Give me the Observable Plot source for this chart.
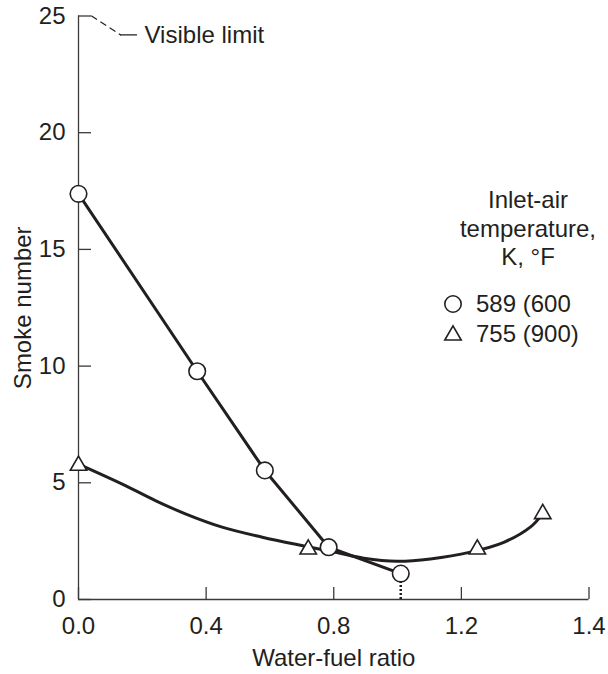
<!DOCTYPE html>
<html>
<head>
<meta charset="utf-8">
<script src="https://cdn.jsdelivr.net/npm/d3@7"></script>
<script src="https://cdn.jsdelivr.net/npm/@observablehq/plot@0.6"></script>
<style>
  html, body { margin: 0; padding: 0; background: #fff; }
  #wrap { position: relative; width: 608px; height: 674px; font-family: "Liberation Sans", Arial, sans-serif; color: #231f20; }
  #legend-title { position: absolute; left: 448px; top: 186px; width: 160px; text-align: center; font-size: 24px; line-height: 28.5px; }
  .row { position: absolute; left: 443px; height: 28px; display: flex; align-items: center; font-size: 24px; }
  .row svg { width: 20px; height: 20px; margin-right: 13px; }
</style>
</head>
<body>
<div id="wrap"></div>
<script>
// ---- data ----
const xTicks = [0, 0.4, 0.8, 1.2, 1.6];
const xTickLabels = ["0.0", "0.4", "0.8", "1.2", "1.4"];
const yTicks = [0, 5, 10, 15, 20, 25];

// Inlet-air temperature 589 K (600 °F): circles
const circleX = [0, 0.372, 0.584, 0.784, 1.01];
const circleY = [17.38, 9.78, 5.53, 2.24, 1.11];

// Inlet-air temperature 755 K (900 °F): triangles
const triX = [0, 0.72, 1.25, 1.455];
const triY = [5.74, 2.15, 2.15, 3.67];

// faired curve through the triangle data
const triCurveX = [0, 0.147, 0.241, 0.335, 0.45, 0.576, 0.70, 0.81, 0.894, 0.999, 1.103, 1.228, 1.333, 1.416, 1.455];
const triCurveY = [5.8, 4.88, 4.24, 3.67, 3.10, 2.67, 2.31, 2.01, 1.77, 1.64, 1.74, 2.03, 2.45, 3.10, 3.67];

// "Visible limit" annotation
const visibleLimit = 25;
const leaderX = [0.041, 0.132];
const leaderY = [visibleLimit, 24.19];
const shelfX = [0.132, 0.182];
const shelfY = [24.19, 24.19];
const limitLabel = ["Visible limit"];
const limitLabelX = [0.207];
const limitLabelY = [24.19];

const legendTitle = ["Inlet-air", "temperature,", "K, °F"];
const legendLabels = ["589 (600", "755 (900)"];

// ---- build tables ----
const pts = (xs, ys) => xs.map((x, i) => ({x, y: ys[i]}));
const circles = pts(circleX, circleY);
const tris = pts(triX, triY);
const triCurve = pts(triCurveX, triCurveY);
const ink = "#231f20";
const axisInk = "#3a3a3a";
const triR = 6.1;

const chart = Plot.plot({
  width: 608,
  height: 674,
  marginLeft: 78,
  marginRight: 19.5,
  marginTop: 15.5,
  marginBottom: 75,
  style: {fontFamily: "'Liberation Sans', Arial, sans-serif", fontSize: "24px", color: ink, background: "white", overflow: "visible"},
  x: {domain: [0, 1.6]},
  y: {domain: [0, 25]},
  marks: [
    Plot.axisX({
      ticks: xTicks,
      tickFormat: d => xTickLabels[xTicks.indexOf(d)],
      tickSize: -12,
      tickPadding: 29,
      stroke: axisInk,
      strokeWidth: 1.3,
      label: "Water-fuel ratio",
      labelAnchor: "center",
      labelArrow: "none",
      labelOffset: 66
    }),
    Plot.axisY({
      ticks: yTicks,
      tickSize: -13,
      tickPadding: 26,
      stroke: axisInk,
      strokeWidth: 1.3,
      label: "Smoke number",
      labelAnchor: "center",
      labelArrow: "none",
      labelOffset: 65
    }),
    Plot.ruleX([0], {stroke: axisInk, strokeWidth: 1.3}),
    Plot.ruleY([0], {stroke: axisInk, strokeWidth: 1.3}),
    // visible limit leader
    Plot.line(pts(leaderX, leaderY), {x: "x", y: "y", stroke: ink, strokeWidth: 1.2, strokeDasharray: "6,5"}),
    Plot.line(pts(shelfX, shelfY), {x: "x", y: "y", stroke: ink, strokeWidth: 1.2}),
    Plot.text(limitLabel, {x: limitLabelX, y: limitLabelY, text: d => d, textAnchor: "start", fill: ink, fontSize: 24}),
    // dotted drop line from the last circle
    Plot.ruleX([circleX[4]], {y1: 0, y2: circleY[4], stroke: ink, strokeWidth: 2.5, strokeDasharray: "2,2"}),
    // curves
    Plot.line(triCurve, {x: "x", y: "y", curve: "catmull-rom", stroke: ink, strokeWidth: 3}),
    Plot.line(circles, {x: "x", y: "y", curve: "linear", stroke: ink, strokeWidth: 3, strokeLinejoin: "round"}),
    // markers
    Plot.dot(circles, {x: "x", y: "y", r: 8.3, fill: "white", stroke: ink, strokeWidth: 1.6}),
    Plot.dot(tris, {x: "x", y: "y", symbol: "triangle", r: triR, fill: "white", stroke: ink, strokeWidth: 1.6})
  ]
});

const wrap = document.getElementById("wrap");
wrap.appendChild(chart);

// legend overlay
const title = document.createElement("div");
title.id = "legend-title";
title.innerHTML = legendTitle.join("<br>");
wrap.appendChild(title);

const symbols = [
  `<svg viewBox="-10 -10 20 20"><circle r="8.2" fill="white" stroke="${ink}" stroke-width="1.6"/></svg>`,
  `<svg viewBox="-10 -10 20 20"><path d="${d3.symbol(d3.symbolTriangle, triR * triR * Math.PI)()}" transform="translate(0,1.3)" fill="white" stroke="${ink}" stroke-width="1.6"/></svg>`
];
const rowTops = [290, 320];
legendLabels.forEach((lab, i) => {
  const row = document.createElement("div");
  row.className = "row";
  row.style.top = rowTops[i] + "px";
  row.innerHTML = symbols[i] + `<span>${lab}</span>`;
  wrap.appendChild(row);
});
</script>
</body>
</html>
